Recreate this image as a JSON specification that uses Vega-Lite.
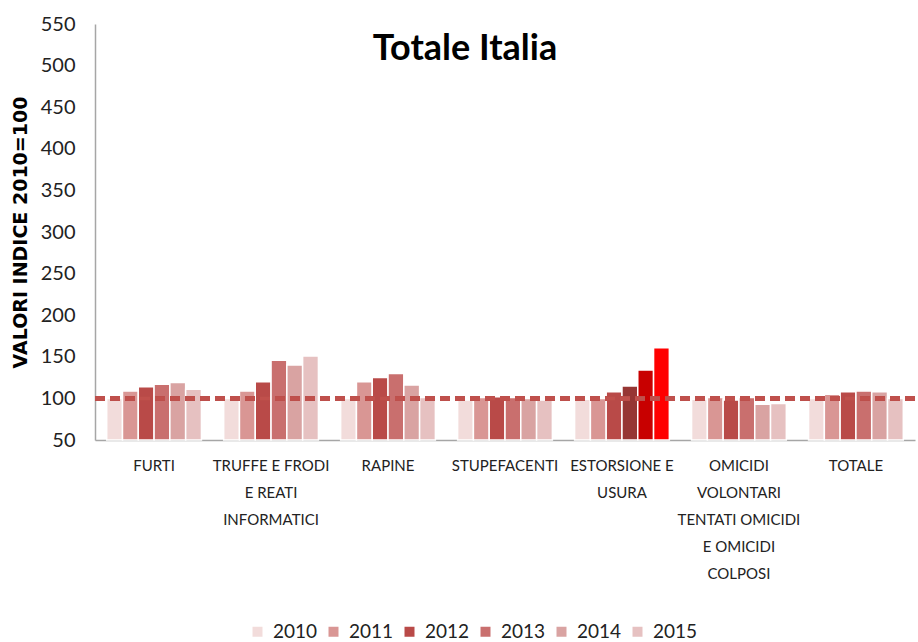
{
  "$schema": "https://vega.github.io/schema/vega-lite/v6.json",
  "autosize": {"type": "none"},
  "width": 820,
  "height": 416,
  "padding": {"left": 95, "top": 24, "right": 3, "bottom": 202},
  "background": "white",
  "title": {
    "text": "Totale Italia",
    "font": "Lato",
    "fontSize": 36,
    "fontWeight": "bold",
    "color": "#000000",
    "anchor": "middle",
    "dx": -40,
    "dy": 82,
    "offset": 0,
    "baseline": "alphabetic"
  },
  "config": {
    "view": {"stroke": null},
    "font": "Lato"
  },
  "data": {
    "values": [
      {"reato": "FURTI", "anno": "2010", "valore": 100},
      {"reato": "FURTI", "anno": "2011", "valore": 109},
      {"reato": "FURTI", "anno": "2012", "valore": 114},
      {"reato": "FURTI", "anno": "2013", "valore": 117},
      {"reato": "FURTI", "anno": "2014", "valore": 119},
      {"reato": "FURTI", "anno": "2015", "valore": 111},
      {"reato": "TRUFFE E FRODI E REATI INFORMATICI", "anno": "2010", "valore": 100},
      {"reato": "TRUFFE E FRODI E REATI INFORMATICI", "anno": "2011", "valore": 109},
      {"reato": "TRUFFE E FRODI E REATI INFORMATICI", "anno": "2012", "valore": 120},
      {"reato": "TRUFFE E FRODI E REATI INFORMATICI", "anno": "2013", "valore": 146},
      {"reato": "TRUFFE E FRODI E REATI INFORMATICI", "anno": "2014", "valore": 140},
      {"reato": "TRUFFE E FRODI E REATI INFORMATICI", "anno": "2015", "valore": 151},
      {"reato": "RAPINE", "anno": "2010", "valore": 100},
      {"reato": "RAPINE", "anno": "2011", "valore": 120},
      {"reato": "RAPINE", "anno": "2012", "valore": 125},
      {"reato": "RAPINE", "anno": "2013", "valore": 130},
      {"reato": "RAPINE", "anno": "2014", "valore": 116},
      {"reato": "RAPINE", "anno": "2015", "valore": 101},
      {"reato": "STUPEFACENTI", "anno": "2010", "valore": 98},
      {"reato": "STUPEFACENTI", "anno": "2011", "valore": 101},
      {"reato": "STUPEFACENTI", "anno": "2012", "valore": 102},
      {"reato": "STUPEFACENTI", "anno": "2013", "valore": 101},
      {"reato": "STUPEFACENTI", "anno": "2014", "valore": 100},
      {"reato": "STUPEFACENTI", "anno": "2015", "valore": 98},
      {"reato": "ESTORSIONE E USURA", "anno": "2010", "valore": 99},
      {"reato": "ESTORSIONE E USURA", "anno": "2011", "valore": 100},
      {"reato": "ESTORSIONE E USURA", "anno": "2012", "valore": 108},
      {"reato": "ESTORSIONE E USURA", "anno": "2013", "valore": 115},
      {"reato": "ESTORSIONE E USURA", "anno": "2014", "valore": 134},
      {"reato": "ESTORSIONE E USURA", "anno": "2015", "valore": 161},
      {"reato": "OMICIDI VOLONTARI TENTATI OMICIDI E OMICIDI COLPOSI", "anno": "2010", "valore": 99},
      {"reato": "OMICIDI VOLONTARI TENTATI OMICIDI E OMICIDI COLPOSI", "anno": "2011", "valore": 101},
      {"reato": "OMICIDI VOLONTARI TENTATI OMICIDI E OMICIDI COLPOSI", "anno": "2012", "valore": 98},
      {"reato": "OMICIDI VOLONTARI TENTATI OMICIDI E OMICIDI COLPOSI", "anno": "2013", "valore": 101},
      {"reato": "OMICIDI VOLONTARI TENTATI OMICIDI E OMICIDI COLPOSI", "anno": "2014", "valore": 93},
      {"reato": "OMICIDI VOLONTARI TENTATI OMICIDI E OMICIDI COLPOSI", "anno": "2015", "valore": 94},
      {"reato": "TOTALE", "anno": "2010", "valore": 100},
      {"reato": "TOTALE", "anno": "2011", "valore": 105},
      {"reato": "TOTALE", "anno": "2012", "valore": 108},
      {"reato": "TOTALE", "anno": "2013", "valore": 109},
      {"reato": "TOTALE", "anno": "2014", "valore": 108},
      {"reato": "TOTALE", "anno": "2015", "valore": 100}
    ]
  },
  "layer": [
    {
      "mark": {"type": "bar", "stroke": "white", "strokeWidth": 1.5},
      "encoding": {
        "x": {
          "field": "reato",
          "type": "nominal",
          "sort": null,
          "scale": {"paddingInner": 0.19, "paddingOuter": 0.1},
          "axis": {
            "title": null,
            "labelAngle": 0,
            "labelFont": "Lato",
            "labelFontSize": 15,
            "labelColor": "#222222",
            "labelPadding": 18,
            "labelLineHeight": 27,
            "labelBaseline": "top",
            "ticks": false,
            "domainColor": "#A6A6A6",
            "domainWidth": 1.5,
            "labelExpr": "datum.label == 'TRUFFE E FRODI E REATI INFORMATICI' ? ['TRUFFE E FRODI', 'E REATI', 'INFORMATICI'] : datum.label == 'ESTORSIONE E USURA' ? ['ESTORSIONE E', 'USURA'] : datum.label == 'OMICIDI VOLONTARI TENTATI OMICIDI E OMICIDI COLPOSI' ? ['OMICIDI', 'VOLONTARI', 'TENTATI OMICIDI', 'E OMICIDI', 'COLPOSI'] : datum.label"
          }
        },
        "xOffset": {"field": "anno", "type": "nominal", "scale": {"paddingInner": 0, "paddingOuter": 0}},
        "y": {
          "field": "valore",
          "type": "quantitative",
          "scale": {"domain": [50, 550], "nice": false, "zero": false},
          "axis": {
            "title": "VALORI INDICE 2010=100",
            "titleFont": "DejaVu Sans",
            "titleFontSize": 19,
            "titleFontWeight": "bold",
            "titleColor": "#000000",
            "titlePadding": 10,
            "values": [50, 100, 150, 200, 250, 300, 350, 400, 450, 500, 550],
            "labelFont": "Lato",
            "labelFontSize": 20,
            "labelColor": "#222222",
            "labelPadding": 20,
            "ticks": false,
            "grid": false,
            "domainColor": "#A6A6A6",
            "domainWidth": 1.5
          }
        },
        "y2": {"datum": 50},
        "color": {
          "condition": [
            {"test": "datum.reato == 'ESTORSIONE E USURA' && datum.anno == '2013'", "value": "#963634"},
            {"test": "datum.reato == 'ESTORSIONE E USURA' && datum.anno == '2014'", "value": "#C80000"},
            {"test": "datum.reato == 'ESTORSIONE E USURA' && datum.anno == '2015'", "value": "#FF0000"}
          ],
          "field": "anno",
          "type": "nominal",
          "scale": {
            "domain": ["2010", "2011", "2012", "2013", "2014", "2015"],
            "range": ["#F2DCDB", "#D99694", "#B94A48", "#C96F6E", "#D9A3A2", "#E6C1C1"]
          },
          "legend": {
            "title": null,
            "orient": "none",
            "legendX": 153,
            "legendY": 598,
            "direction": "horizontal",
            "symbolType": "square",
            "symbolSize": 100,
            "symbolStrokeWidth": 0,
            "labelFont": "Lato",
            "labelFontSize": 19,
            "labelColor": "#222222",
            "labelOffset": 6,
            "columnPadding": 6
          }
        }
      }
    },
    {
      "mark": {"type": "rule", "color": "#C0504D", "opacity": 0.9, "strokeWidth": 3.5, "strokeDash": [10, 5]},
      "encoding": {
        "y": {"datum": 100}
      }
    }
  ]
}
